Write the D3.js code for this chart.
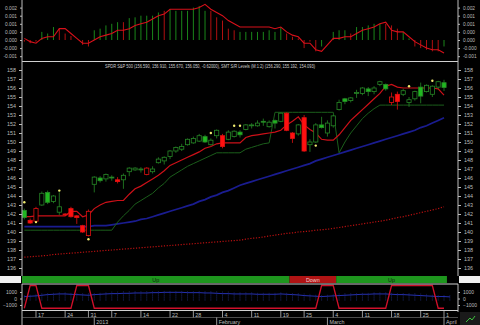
<!DOCTYPE html>
<html>
<head>
<meta charset="utf-8">
<script src="https://cdn.jsdelivr.net/npm/d3@7"></script>
<style>
  body { margin: 0; background: #000; }
  svg { display: block; font-family: Arial, 'Liberation Sans', sans-serif; }
</style>
</head>
<body>
<div class="canvas"></div>
<script>
'use strict';

// trading days shown
const dates = [
  '2012-12-13','2012-12-14','2012-12-17','2012-12-18','2012-12-19','2012-12-20','2012-12-21','2012-12-24','2012-12-26','2012-12-27','2012-12-28','2012-12-31',
  '2013-01-02','2013-01-03','2013-01-04','2013-01-07','2013-01-08','2013-01-09','2013-01-10','2013-01-11','2013-01-14','2013-01-15','2013-01-16','2013-01-17','2013-01-18','2013-01-22','2013-01-23','2013-01-24','2013-01-25','2013-01-28','2013-01-29','2013-01-30','2013-01-31',
  '2013-02-01','2013-02-04','2013-02-05','2013-02-06','2013-02-07','2013-02-08','2013-02-11','2013-02-12','2013-02-13','2013-02-14','2013-02-15','2013-02-19','2013-02-20','2013-02-21','2013-02-22','2013-02-25','2013-02-26','2013-02-27','2013-02-28',
  '2013-03-01','2013-03-04','2013-03-05','2013-03-06','2013-03-07','2013-03-08','2013-03-11','2013-03-12','2013-03-13','2013-03-14','2013-03-15','2013-03-18','2013-03-19','2013-03-20','2013-03-21','2013-03-22','2013-03-25','2013-03-26','2013-03-27','2013-03-28',
  '2013-04-01'
];

const open = [
  142.4,141.3,141.2,143.0,144.4,143.4,142.2,142.0,142.6,141.8,140.7,139.6,
  145.3,146.0,145.9,146.1,145.8,145.8,146.7,146.9,146.9,146.4,146.7,147.7,147.9,148.4,149.0,149.2,149.7,149.9,150.1,150.6,149.7,
  150.7,150.7,150.3,150.6,151.1,151.4,151.8,151.8,152.3,151.7,152.4,152.3,153.2,151.0,150.9,152.7,149.7,150.0,151.9,
  151.0,151.8,153.6,154.8,154.6,155.4,155.4,155.9,155.6,156.4,156.4,154.4,155.3,155.3,154.4,154.8,156.1,155.6,155.3,156.1,
  156.59
];
const high = [
  142.6,141.5,142.8,144.5,144.6,144.1,144.4,142.1,142.8,141.9,140.8,142.5,
  146.2,146.2,146.5,146.3,146.1,146.5,147.2,147.2,147.2,147.2,147.3,148.3,148.4,149.1,149.5,149.8,150.4,150.6,150.9,150.8,150.4,
  151.4,150.9,151.3,151.3,151.3,152.0,152.1,152.4,152.6,152.4,152.5,153.3,153.3,151.1,152.0,153.0,150.3,152.1,152.8,
  152.4,153.0,154.7,154.9,155.0,155.8,156.1,156.1,156.2,156.8,156.5,155.5,155.6,155.9,155.0,155.7,156.6,156.4,156.3,156.8,
  156.91
];
const low = [
  141.4,140.9,141.1,142.9,143.1,143.2,141.9,141.8,141.6,140.9,139.9,139.5,
  144.4,145.5,145.6,145.7,145.4,144.8,146.2,146.8,146.6,146.3,146.5,147.6,147.5,148.1,148.8,149.0,149.6,149.8,150.0,149.9,149.6,
  150.4,149.3,150.2,150.5,150.5,151.3,151.5,151.7,151.8,151.6,151.5,152.2,151.2,149.9,150.7,148.9,148.9,149.9,151.5,
  150.6,151.6,153.5,154.2,154.4,154.9,155.2,155.1,155.3,156.2,155.7,154.1,153.6,155.1,153.9,154.6,154.3,155.5,155.0,155.9,
  155.67
];
const close = [
  141.6,141.0,142.6,144.3,143.3,144.0,142.8,141.9,141.7,141.6,140.0,142.3,
  146.1,145.7,146.4,146.0,145.6,146.3,147.1,147.1,147.0,147.1,147.0,148.1,148.3,149.0,149.4,149.5,150.3,150.4,150.7,150.0,150.2,
  151.3,149.5,151.1,151.2,150.8,151.9,151.9,152.1,152.2,152.2,152.1,153.2,151.3,150.4,151.9,149.0,150.0,151.9,151.6,
  152.1,152.9,154.4,154.5,154.9,155.5,156.0,155.6,156.0,156.7,155.9,155.0,154.5,155.7,154.7,155.6,155.1,156.3,156.2,156.7,
  156.05
];
// candle colour as drawn: g = green, r = red
const candleColor = [
  'g','r','r','g','g','g','g','r','r','r','r','r',
  'g','g','g','g','r','g','g','g','g','r','g','g','g','g','g','g','g','g','g','g','g',
  'g','r','g','g','g','g','g','g','g','g','g','g','r','r','g','r','g','g','g',
  'g','g','g','g','g','g','g','g','g','g','g','r','r','g','g','g','g','g','g','g',
  'g'
];

// SMT S/R levels
const srUpper = [
  141.7,141.7,141.8,141.8,141.8,141.8,141.8,141.8,142.3,142.3,141.7,141.9,
  142.6,143.0,143.3,143.4,143.5,143.5,144.2,144.8,145.1,145.5,145.9,146.3,146.8,147.4,147.7,148.0,148.3,148.6,148.9,149.3,149.5,
  149.8,149.9,149.9,149.9,149.9,150.5,150.7,150.8,150.9,151.0,151.1,151.3,151.9,152.3,152.8,151.9,151.4,151.0,150.3,
  150.2,150.2,150.8,151.6,152.4,153.0,153.6,154.2,154.8,155.4,156.2,156.4,156.1,156.0,156.0,156.0,156.0,156.0,156.0,155.9,
  155.2
];
const srLower = [
  140.2,140.2,140.2,140.2,140.2,140.2,140.2,140.2,140.2,140.2,140.2,140.2,
  140.2,140.2,140.2,140.2,141.1,141.8,142.4,143.1,143.5,143.9,144.3,144.9,145.4,146.1,146.5,146.9,147.3,147.6,147.9,148.2,148.5,
  148.8,148.8,148.8,148.8,148.8,149.2,149.4,149.6,149.8,149.9,153.3,153.3,153.3,153.3,153.3,153.3,153.3,153.3,153.3,
  153.3,153.3,148.8,150.0,151.0,151.8,152.6,153.2,153.7,154.1,154.1,154.1,154.1,154.1,154.1,154.1,154.1,154.1,154.1,154.1,
  154.1
];
const maMid = [
  140.6,140.6,140.6,140.6,140.6,140.6,140.6,140.6,140.6,140.6,140.6,140.6,
  140.7,140.7,140.7,140.8,140.9,141.0,141.1,141.2,141.4,141.5,141.7,141.9,142.1,142.3,142.5,142.7,142.9,143.1,143.4,143.6,143.9,
  144.1,144.4,144.6,144.9,145.2,145.4,145.6,145.8,146.0,146.2,146.4,146.6,146.8,147.0,147.2,147.4,147.6,147.9,148.1,
  148.3,148.5,148.7,148.9,149.1,149.3,149.5,149.7,149.9,150.1,150.3,150.5,150.7,150.9,151.1,151.3,151.6,151.8,152.1,152.4,
  152.7
];
const maLong = [
  137.2,137.25,137.3,137.35,137.4,137.5,137.55,137.6,137.65,137.7,137.75,137.8,
  137.85,137.9,137.95,138.0,138.05,138.1,138.15,138.2,138.25,138.3,138.35,138.4,138.45,138.5,138.55,138.6,138.65,138.7,138.75,138.8,138.85,
  138.9,138.95,139.0,139.05,139.1,139.2,139.3,139.35,139.45,139.55,139.65,139.75,139.85,139.9,140.0,140.05,140.1,140.2,140.25,
  140.3,140.4,140.5,140.6,140.7,140.8,140.9,141.0,141.1,141.2,141.3,141.45,141.6,141.7,141.85,142.0,142.15,142.3,142.45,142.6,
  142.8
];
const markerDate = ['2012-12-13','2012-12-17','2012-12-21','2012-12-31','2013-01-31','2013-02-06','2013-02-07','2013-02-27','2013-03-21','2013-03-27'];
const markerValue = [143.3,141.1,144.6,139.2,151.0,151.8,151.8,149.6,156.2,156.8];

// upper oscillator panel
const oscHist = [
  -0.0001,-0.0002,-0.0001,0.0005,0.0004,0.0008,0.0007,0.0004,0.00025,0.0,-0.0003,-0.0004,
  0.0006,0.0007,0.0009,0.001,0.0011,0.0011,0.00135,0.0014,0.0015,0.0015,0.0015,0.0017,0.0018,0.0019,0.0018,0.0018,0.0018,0.002,0.0021,0.0018,0.0018,
  0.0014,0.0012,0.0007,0.0006,0.0005,0.0005,0.0005,0.0005,0.0005,0.0006,0.0005,0.0008,0.0004,0.0002,0.0001,-0.0005,-0.0001,-0.0007,-0.0004,
  0.0,0.0005,0.0006,0.0006,0.0004,0.0008,0.0008,0.0009,0.001,0.001,0.001,0.0009,0.0007,0.0005,0.0001,-0.0004,-0.0005,-0.0006,-0.0007,-0.0007,
  -0.0004
];
const oscHistColor = [
  'r','r','r','g','g','g','r','r','r','r','r','r',
  'g','g','g','g','g','r','g','g','g','g','g','g','r','g','g','g','g','g','g','g','r',
  'r','r','r','r','g','g','g','g','g','g','g','g','r','r','r','r','r','r','g',
  'g','g','g','g','r','g','g','g','g','g','r','r','r','g','g','r','r','r','r','r',
  'g'
];
const oscSignal = [
  0.0001,-0.0001,-0.0002,0.0001,0.0002,0.0002,0.0007,0.0007,0.0004,0.0001,-0.0002,-0.0002,
  0.0,0.0002,0.0003,0.0004,0.0006,0.0006,0.0007,0.0009,0.001,0.0011,0.0013,0.0015,0.0016,0.0019,0.0019,0.0019,0.0019,0.0019,0.002,0.0022,0.0019,
  0.0017,0.0015,0.0012,0.001,0.0008,0.0008,0.0008,0.0008,0.0008,0.0008,0.0007,0.0008,0.0005,0.0003,0.0002,-0.0002,-0.0002,-0.0006,-0.0007,
  -0.0003,0.0001,0.0001,0.0002,0.0002,0.0004,0.0006,0.0007,0.0008,0.001,0.0011,0.0006,0.0005,0.0005,0.0002,-0.0001,-0.0003,-0.0005,-0.0006,-0.0006,
  -0.0008
];
const oscTicks = [-0.001,-0.0005,0,0.0005,0.001,0.0015,0.002];
const oscTickLabels = ['-0.001','-0.000','0.000','0.000','0.001','0.001','0.002'];

// trend band
const bandFrom = ['2012-12-13','2013-02-21','2013-03-05'];
const bandTo = ['2013-02-20','2013-03-04','2013-04-01'];
const bandLabel = ['Up','Down','Up'];

// lower panel
const stateLine = [
  -1500,2000,2000,-1500,-1500,-1500,-1500,-1500,-1500,2000,2000,2000,
  -1500,-1500,-1500,-1500,-1500,-1500,-1500,-1500,-1500,-1500,-1500,-1500,-1500,-1500,-1500,-1500,-1500,-1500,-1500,-1500,-1500,
  -1500,-1500,-1500,-1500,-1500,-1500,-1500,-1500,-1500,-1500,-1500,-1500,-1500,-1500,-1500,-1500,-1500,-1500,2000,
  2000,2000,-1500,-1500,-1500,-1500,-1500,-1500,-1500,-1500,-1500,2000,2000,2000,2000,2000,2000,2000,2000,-1500,
  -1500
];
const flowLine = [
  300,350,400,500,600,650,700,700,650,600,550,500,
  600,650,700,750,750,800,800,850,850,850,900,900,950,950,950,950,900,900,900,850,850,
  800,750,750,700,700,700,700,650,650,650,650,700,650,600,550,450,400,350,300,
  350,400,450,500,550,600,650,650,700,700,700,650,600,600,550,500,450,400,350,300,300,
  250
];
const bottomTicks = [1000, 0, -1000];

const weekTickDate = ['2012-12-17','2012-12-24','2012-12-31','2013-01-07','2013-01-14','2013-01-22','2013-01-28','2013-02-04','2013-02-11','2013-02-19','2013-02-25','2013-03-04','2013-03-11','2013-03-18','2013-03-25','2013-04-01'];
const weekTickLabel = ['17','24','31','7','14','22','28','4','11','19','25','4','11','18','25','1'];
const monthTickDate = ['2013-01-02','2013-02-01','2013-03-01','2013-04-01'];
const monthTickLabel = ['2013','February','March','April'];

const title = 'SPDR S&P 500 (156.590, 156.910, 155.670, 156.050, -0.62000), SMT S/R Levels (M:1:2) (156.290, 155.192, 154.093)';

// ---------------------------------------------------------------

const width = 480;
const height = 325;
const left = 22;
const right = 458;
const axisCol = '#bdbdbd';

const svg = d3
  .select('.canvas')
  .append('svg')
  .attr('width', width)
  .attr('height', height);

svg.append('rect').attr('width', width).attr('height', height).attr('fill', '#000');

const idx = d => dates.indexOf(d);
const x = d3.scaleLinear().domain([-0.4, 74.4]).range([left, right]);
const step = x(1) - x(0);

const yTop = d3.scaleLinear().domain([-0.001, 0.002]).range([56.2, 7.6]);
const y = d3.scaleLinear().domain([136, 158]).range([268, 70]);
const yBot = d3.scaleLinear().domain([-1000, 1000]).range([305, 292]);

const defs = svg.append('defs');
defs.append('clipPath').attr('id', 'clipTop')
  .append('rect').attr('x', left).attr('y', 0).attr('width', right - left).attr('height', 60);
defs.append('clipPath').attr('id', 'clipMain')
  .append('rect').attr('x', left).attr('y', 62).attr('width', right - left).attr('height', 213);
defs.append('clipPath').attr('id', 'clipBot')
  .append('rect').attr('x', left).attr('y', 284).attr('width', right - left).attr('height', 26);

const styleAxis = (g, size) => {
  g.select('.domain').attr('stroke', axisCol);
  g.selectAll('.tick line').attr('stroke', axisCol);
  g.selectAll('.tick text').attr('fill', axisCol).style('font-size', size + 'px');
};

// ---- top oscillator panel
const topG = svg.append('g').attr('clip-path', 'url(#clipTop)');

topG.selectAll('line.hist')
  .data(oscHist)
  .enter()
  .append('line')
  .attr('x1', (d, i) => x(i))
  .attr('x2', (d, i) => x(i))
  .attr('y1', yTop(0))
  .attr('y2', d => yTop(d))
  .attr('stroke', (d, i) => oscHistColor[i] === 'g' ? '#1a861a' : '#b01010')
  .attr('stroke-width', 1);

topG.append('path')
  .datum(oscSignal)
  .attr('fill', 'none')
  .attr('stroke', '#d8101a')
  .attr('stroke-width', 1.1)
  .attr('d', d3.line().x((d, i) => x(i)).y(d => yTop(d)));

const topAxisL = d3.axisLeft(yTop).tickValues(oscTicks).tickSize(2)
  .tickFormat((d, i) => oscTickLabels[i]);
const topAxisR = d3.axisRight(yTop).tickValues(oscTicks).tickSize(2)
  .tickFormat((d, i) => oscTickLabels[i]);
svg.append('g').attr('transform', `translate(${left},0)`).call(topAxisL).call(g => styleAxis(g, 4.8))
  .call(g => g.select('.domain').attr('d', `M0,0V60`));
svg.append('g').attr('transform', `translate(${right},0)`).call(topAxisR).call(g => styleAxis(g, 4.8))
  .call(g => g.select('.domain').attr('d', `M0,0V60`));

// ---- main price panel
svg.append('line').attr('x1', left).attr('x2', right).attr('y1', 61.5).attr('y2', 61.5)
  .attr('stroke', '#d0d0d0').attr('stroke-width', 1);

const mainG = svg.append('g').attr('clip-path', 'url(#clipMain)');

const lineGen = d3.line().x((d, i) => x(i)).y(d => y(d));

mainG.append('path').datum(maLong)
  .attr('fill', 'none').attr('stroke', '#b81010').attr('stroke-width', 1.2)
  .attr('stroke-dasharray', '1.2,1.6').attr('d', lineGen);

mainG.append('path').datum(maMid)
  .attr('fill', 'none').attr('stroke', '#1a1c90').attr('stroke-width', 1.7)
  .attr('d', lineGen);

mainG.append('path').datum(srLower)
  .attr('fill', 'none').attr('stroke', '#1b5e1b').attr('stroke-width', 1)
  .attr('d', lineGen);

mainG.append('path').datum(srUpper)
  .attr('fill', 'none').attr('stroke', '#cc1018').attr('stroke-width', 1.2)
  .attr('d', lineGen);

const bodyW = step * 0.72;
const candles = mainG.selectAll('g.candle')
  .data(dates)
  .enter()
  .append('g');

candles.append('line')
  .attr('x1', (d, i) => x(i))
  .attr('x2', (d, i) => x(i))
  .attr('y1', (d, i) => y(high[i]))
  .attr('y2', (d, i) => y(low[i]))
  .attr('stroke', (d, i) => candleColor[i] === 'g' ? '#268626' : '#e01010')
  .attr('stroke-width', 0.8);

candles.append('rect')
  .attr('x', (d, i) => x(i) - bodyW / 2)
  .attr('width', bodyW)
  .attr('y', (d, i) => y(Math.max(open[i], close[i])))
  .attr('height', (d, i) => Math.max(0.8, Math.abs(y(open[i]) - y(close[i]))))
  .attr('fill', (d, i) => {
    if (close[i] >= open[i]) return '#000';
    return candleColor[i] === 'g' ? '#20b820' : '#ff1010';
  })
  .attr('stroke', (d, i) => candleColor[i] === 'g' ? '#268626' : '#e01010')
  .attr('stroke-width', 0.8);

mainG.selectAll('circle.marker')
  .data(markerDate)
  .enter()
  .append('circle')
  .attr('cx', d => x(idx(d)))
  .attr('cy', (d, i) => y(markerValue[i]))
  .attr('r', 1.2)
  .attr('fill', '#f0ec70');

svg.append('text')
  .attr('x', 105).attr('y', 67.5)
  .attr('fill', '#cfcfcf')
  .style('font-size', '4.6px')
  .attr('textLength', 210)
  .attr('lengthAdjust', 'spacingAndGlyphs')
  .text(title);

const priceTicks = d3.range(136, 159);
const axisL = d3.axisLeft(y).tickValues(priceTicks).tickSize(3).tickFormat(d3.format('d'));
const axisR = d3.axisRight(y).tickValues(priceTicks).tickSize(3).tickFormat(d3.format('d'));
svg.append('g').attr('transform', `translate(${left},0)`).call(axisL).call(g => styleAxis(g, 5.4))
  .call(g => g.select('.domain').attr('d', 'M0,60V276'));
svg.append('g').attr('transform', `translate(${right},0)`).call(axisR).call(g => styleAxis(g, 5.4))
  .call(g => g.select('.domain').attr('d', 'M0,60V276'));

// ---- trend band
svg.append('rect').attr('x', 0).attr('y', 276).attr('width', left - 1).attr('height', 7).attr('fill', '#f0f0f0');
svg.append('rect').attr('x', right + 1).attr('y', 276).attr('width', width - right).attr('height', 7).attr('fill', '#f0f0f0');

bandLabel.forEach((lab, k) => {
  const x0 = Math.max(left, x(idx(bandFrom[k]) - 0.5));
  const x1 = x(idx(bandTo[k]) + 0.5);
  svg.append('rect')
    .attr('x', x0).attr('y', 276).attr('width', x1 - x0).attr('height', 7)
    .attr('fill', lab === 'Up' ? '#1e961e' : '#b01414');
  svg.append('text')
    .attr('x', (x0 + x1) / 2).attr('y', 281.6)
    .attr('text-anchor', 'middle')
    .attr('fill', lab === 'Up' ? '#102010' : '#f4d0d0')
    .style('font-size', '5.4px')
    .text(lab);
});

// ---- lower panel
const botG = svg.append('g').attr('clip-path', 'url(#clipBot)');

botG.selectAll('line.vol')
  .data(flowLine)
  .enter()
  .append('line')
  .attr('x1', (d, i) => x(i))
  .attr('x2', (d, i) => x(i))
  .attr('y1', yBot(-300))
  .attr('y2', d => yBot(d + 300))
  .attr('stroke', '#2a3a9a')
  .attr('stroke-width', 0.7)
  .attr('stroke-dasharray', '1,1');

botG.append('path').datum(flowLine)
  .attr('fill', 'none').attr('stroke', '#2530b0').attr('stroke-width', 1)
  .attr('d', d3.line().x((d, i) => x(i)).y(d => yBot(d)));

botG.append('path').datum(stateLine)
  .attr('fill', 'none').attr('stroke', '#d0102a').attr('stroke-width', 1.3)
  .attr('d', d3.line().x((d, i) => x(i)).y(d => yBot(d)));

const botAxisL = d3.axisLeft(yBot).tickValues(bottomTicks).tickSize(2).tickFormat(d3.format('d'));
const botAxisR = d3.axisRight(yBot).tickValues(bottomTicks).tickSize(2).tickFormat(d3.format('d'));
svg.append('g').attr('transform', `translate(${left},0)`).call(botAxisL).call(g => styleAxis(g, 5))
  .call(g => g.select('.domain').attr('d', 'M0,284V325'));
svg.append('g').attr('transform', `translate(${right},0)`).call(botAxisR).call(g => styleAxis(g, 5))
  .call(g => g.select('.domain').attr('d', 'M0,284V312'));

svg.append('line').attr('x1', left).attr('x2', right).attr('y1', 284).attr('y2', 284)
  .attr('stroke', '#d0d0d0');
svg.append('line').attr('x1', left).attr('x2', right).attr('y1', 310.5).attr('y2', 310.5)
  .attr('stroke', '#d0d0d0');

// ---- date axis
const dateG = svg.append('g');
weekTickDate.forEach((d, k) => {
  const xx = x(idx(d));
  dateG.append('line').attr('x1', xx).attr('x2', xx).attr('y1', 311).attr('y2', 317.5)
    .attr('stroke', axisCol).attr('stroke-width', 0.8);
  dateG.append('text').attr('x', xx + 2).attr('y', 316.8)
    .attr('fill', axisCol).style('font-size', '5.4px').text(weekTickLabel[k]);
});
dateG.append('line').attr('x1', left).attr('x2', right).attr('y1', 317.5).attr('y2', 317.5)
  .attr('stroke', '#808080').attr('stroke-width', 0.6);
monthTickDate.forEach((d, k) => {
  const xx = x(idx(d));
  dateG.append('line').attr('x1', xx).attr('x2', xx).attr('y1', 317.5).attr('y2', 325)
    .attr('stroke', axisCol).attr('stroke-width', 0.8);
  dateG.append('text').attr('x', xx + 2).attr('y', 323.6)
    .attr('fill', axisCol).style('font-size', '5.4px').text(monthTickLabel[k]);
});

// corner icon
svg.append('rect').attr('x', right + 2).attr('y', 312).attr('width', 20).attr('height', 13).attr('fill', '#1a1a1a');
svg.append('path').attr('d', `M${right + 8},322 L${right + 12},318 L${right + 14},320 L${right + 17},316`)
  .attr('fill', 'none').attr('stroke', '#3cc03c').attr('stroke-width', 1);
</script>
</body>
</html>
